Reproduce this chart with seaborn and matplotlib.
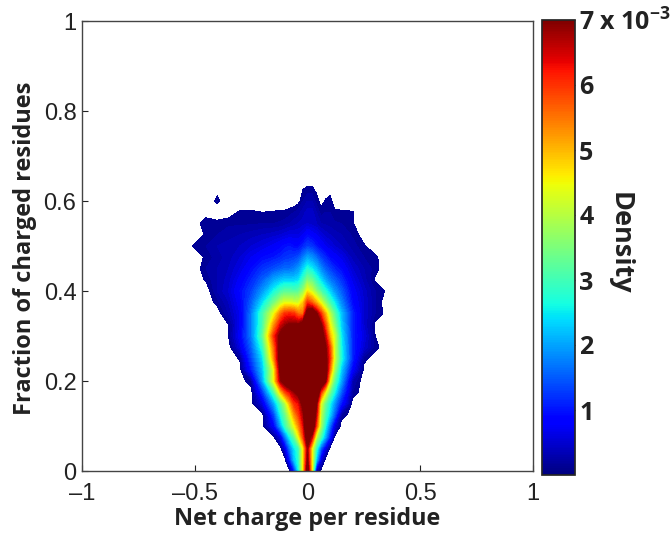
"""
plot.py
Density of net charge per residue vs fraction of charged residues.
"""

import matplotlib
matplotlib.use('Agg')
import matplotlib.pyplot as plt
import numpy as np
import seaborn as sns

# Grid, density in units of 1e-3
x_nodes = [-0.55, -0.5, -0.45, -0.4, -0.35, -0.3, -0.25, -0.2, -0.15, -0.12,
           -0.1, -0.08, -0.06, -0.04, -0.02, 0, 0.02, 0.04, 0.06, 0.08,
           0.1, 0.12, 0.15, 0.2, 0.25, 0.3, 0.35, 0.4]
y_nodes = [0, 0.025, 0.05, 0.075, 0.1, 0.125, 0.15, 0.175, 0.2, 0.225, 0.25, 0.275, 0.3,
           0.325, 0.35, 0.375, 0.4, 0.425, 0.45, 0.475, 0.5, 0.525, 0.55, 0.575, 0.6, 0.65]

density = np.array([
    [0, 0, 0, 0, 0, 0, 0, 0, 0, 0, 0, 0, 1, 2.5, 4.5, 7.5, 4.5, 0.3, 0, 0, 0, 0, 0, 0, 0, 0, 0, 0],
    [0, 0, 0, 0, 0, 0, 0, 0, 0, 0, 0, 1, 2.2, 2.8, 4.5, 7, 4.5, 2.2, 0.6, 0, 0, 0, 0, 0, 0, 0, 0, 0],
    [0, 0, 0, 0, 0, 0, 0, 0, 0, 0, 0.6, 1.6, 2.4, 2.9, 4.5, 6.8, 4.5, 2.8, 1.5, 0.6, 0, 0, 0, 0, 0, 0, 0, 0],
    [0, 0, 0, 0, 0, 0, 0, 0, 0.05, 0.6, 1.6, 2.5, 3.2, 4.4, 5.8, 7.5, 6.5, 4, 3, 2, 1, 0.05, 0, 0, 0, 0, 0, 0],
    [0, 0, 0, 0, 0, 0, 0, 0, 0.8, 2, 2.9, 3.6, 4.4, 5.3, 6.3, 8, 8, 5.8, 3.8, 2.6, 1.6, 0.6, 0, 0, 0, 0, 0, 0],
    [0, 0, 0, 0, 0, 0, 0, 0, 1.3, 2.6, 3.3, 4.2, 5.2, 5.9, 6.7, 8, 8, 6.5, 4, 3, 2.3, 1.5, 0.2, 0, 0, 0, 0, 0],
    [0, 0, 0, 0, 0, 0, 0, 0.6, 2, 3.1, 3.9, 5, 6, 6.3, 7.2, 8.5, 8.5, 7, 4.3, 3.3, 2.6, 1.9, 1, 0, 0, 0, 0, 0],
    [0, 0, 0, 0, 0, 0, 0, 1.2, 3, 4.8, 5.8, 6.3, 6.8, 7.2, 8, 9, 9, 8, 6, 4.5, 3.4, 2.6, 1.5, 0.2, 0, 0, 0, 0],
    [0, 0, 0, 0, 0, 0, 0.2, 2, 4.4, 6.8, 7.5, 8, 8.5, 8.5, 9, 9, 9, 8.5, 8, 7, 4.5, 3.2, 2, 0.3, 0, 0, 0, 0],
    [0, 0, 0, 0, 0, 0, 1, 2.2, 4.4, 7.2, 8, 8.5, 8.5, 9, 9, 9, 9, 8.5, 8, 7.5, 5.5, 3.8, 2.3, 0.8, 0.05, 0, 0, 0],
    [0, 0, 0, 0, 0, 0.12, 1.3, 2.4, 5.2, 7.5, 8, 8.5, 8.5, 9, 9, 9, 9, 8.5, 8, 7.2, 6, 4.2, 2.7, 1.1, 0.15, 0, 0, 0],
    [0, 0, 0, 0, 0, 0.6, 1.5, 2.8, 5.5, 7.4, 8, 8.5, 8.5, 8.5, 9, 9, 9, 8.5, 8, 7, 5.8, 4.2, 2.6, 1.1, 0.5, 0.15, 0, 0],
    [0, 0, 0, 0, 0.1, 0.8, 1.7, 3.2, 6, 7.2, 7.5, 8, 8, 8, 8.5, 9, 8.5, 8, 7.5, 6.5, 5, 4.2, 2.5, 1.1, 0.6, 0.1, 0, 0],
    [0, 0, 0, 0, 0.1, 0.7, 1.7, 3, 5.2, 6.4, 6.8, 7, 7, 7, 7.5, 8.5, 8.5, 8, 7, 5.8, 4.5, 3.6, 2.3, 1.1, 0.5, 0.05, 0, 0],
    [0, 0, 0, 0, 0.3, 0.7, 1.7, 3, 4.4, 5.5, 6, 6.1, 6, 5.5, 5.5, 7.5, 7.8, 7, 6, 5, 4, 3.2, 2.2, 1.1, 0.5, 0.2, 0.05, 0],
    [0, 0, 0, 0.15, 0.4, 0.8, 1.5, 2.4, 3.4, 4, 4.3, 4.3, 4.2, 4.2, 4.8, 6, 5.6, 5, 4.3, 3.6, 3, 2.5, 1.8, 0.9, 0.5, 0.2, 0.02, 0],
    [0, 0, 0, 0.3, 0.5, 0.9, 1.3, 1.9, 2.6, 3, 3.2, 3.2, 3.1, 3.2, 3.7, 4.6, 4.2, 3.6, 3.1, 2.7, 2.3, 1.9, 1.5, 0.8, 0.45, 0.2, 0.08, 0],
    [0, 0, 0.12, 0.3, 0.45, 0.75, 1.1, 1.5, 2, 2.2, 2.3, 2.3, 2.3, 2.4, 2.9, 3.5, 3.3, 2.8, 2.4, 2, 1.7, 1.5, 1.2, 0.65, 0.35, 0.08, 0, 0],
    [0, 0, 0.2, 0.3, 0.4, 0.6, 0.9, 1.2, 1.4, 1.5, 1.6, 1.6, 1.7, 1.9, 2.3, 2.7, 2.5, 2.2, 1.8, 1.5, 1.3, 1.1, 0.9, 0.5, 0.3, 0.15, 0, 0],
    [0, 0, 0.13, 0.25, 0.35, 0.5, 0.7, 0.9, 1, 1.1, 1.2, 1.25, 1.3, 1.4, 1.7, 2, 1.85, 1.6, 1.3, 1.1, 0.9, 0.8, 0.65, 0.35, 0.2, 0.13, 0, 0],
    [0, 0.12, 0.2, 0.3, 0.35, 0.4, 0.5, 0.6, 0.75, 0.85, 0.95, 1, 0.9, 0.9, 1.1, 1.3, 1.2, 1, 0.85, 0.7, 0.6, 0.5, 0.4, 0.25, 0.12, 0, 0, 0],
    [0, 0, 0.12, 0.2, 0.25, 0.3, 0.35, 0.4, 0.45, 0.5, 0.55, 0.6, 0.6, 0.6, 0.7, 0.9, 0.8, 0.7, 0.55, 0.45, 0.4, 0.35, 0.3, 0.18, 0.03, 0, 0, 0],
    [0, 0, 0.2, 0.14, 0.18, 0.18, 0.18, 0.2, 0.2, 0.22, 0.25, 0.3, 0.35, 0.4, 0.45, 0.5, 0.45, 0.4, 0.3, 0.28, 0.25, 0.22, 0.2, 0.11, 0, 0, 0, 0],
    [0, 0, 0, 0, 0.02, 0.12, 0.12, 0.1, 0.11, 0.12, 0.12, 0.15, 0.2, 0.25, 0.35, 0.45, 0.45, 0.3, 0.15, 0.2, 0.2, 0.12, 0.12, 0.11, 0, 0, 0, 0],
    [0, 0, 0, 0.13, 0, 0, 0, 0, 0, 0, 0, 0, 0, 0.05, 0.2, 0.3, 0.3, 0.15, 0.05, 0.11, 0.13, 0.05, 0, 0, 0, 0, 0, 0],
    [0, 0, 0, 0, 0, 0, 0, 0, 0, 0, 0, 0, 0, 0, 0, 0, 0, 0, 0, 0, 0, 0, 0, 0, 0, 0, 0, 0],
])

x_ticks = [-1, -0.5, 0, 0.5, 1]
x_tick_labels = ['–1', '–0.5', '0', '0.5', '1']
y_ticks = [0, 0.2, 0.4, 0.6, 0.8, 1]
y_tick_labels = ['0', '0.2', '0.4', '0.6', '0.8', '1']
cbar_ticks = [1, 2, 3, 4, 5, 6, 7]
cbar_tick_labels = ['1', '2', '3', '4', '5', '6', '7 x 10$^{\\mathbf{-3}}$']

sns.set_theme(style='ticks', font='Liberation Sans')
plt.rcParams['mathtext.fontset'] = 'custom'
plt.rcParams['mathtext.bf'] = 'Open Sans:bold'

W, H = 670, 533
fig = plt.figure(figsize=(W / 100, H / 100), dpi=100)
ax = fig.add_axes([82 / W, 1 - 471 / H, 451 / W, 450 / H])
cax = fig.add_axes([542 / W, 1 - 475 / H, 33 / W, 455 / H])

jet = plt.get_cmap('jet')
levels = np.linspace(0.1, 7, 70)
cf = ax.contourf(x_nodes, y_nodes, density, levels=levels, cmap=jet, vmin=0, vmax=7, extend='max')

ax.set_xlim(-1, 1)
ax.set_ylim(0, 1)
ax.set_xticks(x_ticks)
ax.set_xticklabels(x_tick_labels)
ax.set_yticks(y_ticks)
ax.set_yticklabels(y_tick_labels)
ax.tick_params(direction='in', length=4, width=0.8, labelsize=17, colors='#222222')
ax.tick_params(axis='x', pad=9)
ax.tick_params(axis='y', pad=4)
for s in ax.spines.values():
    s.set_linewidth(1.0)
    s.set_color('#444444')
ax.set_xlabel('Net charge per residue', family='Open Sans', fontweight='bold', fontsize=16.8,
              color='#222222', va='center')
ax.xaxis.set_label_coords(0.499, -(519 - 471) / 450)
ax.set_ylabel('Fraction of charged residues', family='Open Sans', fontweight='bold', fontsize=17,
              color='#222222', va='center')
ax.yaxis.set_label_coords(-(82 - 25) / 451, 0.495)

sm = plt.cm.ScalarMappable(norm=plt.Normalize(0, 7), cmap=jet)
cbar = fig.colorbar(sm, cax=cax)
cbar.set_ticks(cbar_ticks)
cbar.set_ticklabels(cbar_tick_labels)
cax.tick_params(direction='in', length=4, width=0.8, left=True, right=True, pad=3)
for lab in cax.get_yticklabels():
    lab.set_family('Open Sans')
    lab.set_fontweight('bold')
    lab.set_fontsize(18)
    lab.set_color('#222222')
cbar.set_label('Density', rotation=270, family='Open Sans', fontweight='bold', fontsize=19.5,
               color='#222222', va='center')
cax.yaxis.set_label_coords((620 - 542) / 33, (475 - 243) / 455)

fig.savefig('out.png', dpi=100)
